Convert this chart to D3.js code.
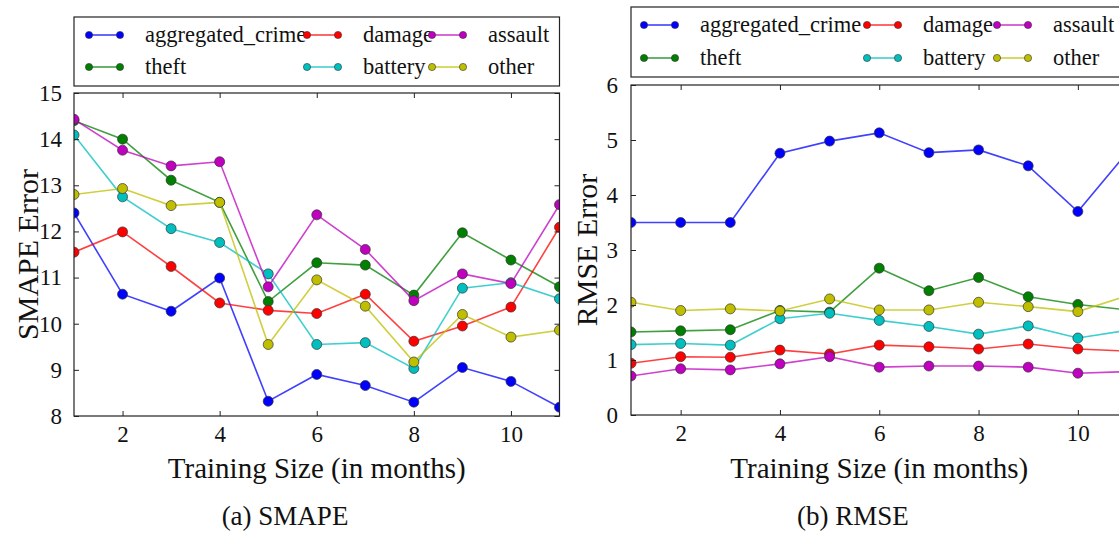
<!DOCTYPE html>
<html>
<head>
<meta charset="utf-8">
<script src="https://cdn.jsdelivr.net/npm/d3@7"></script>
<style>
  html, body { margin: 0; padding: 0; background: #fff; overflow: hidden; }
  svg { display: block; font-family: "Liberation Serif", "DejaVu Serif", serif; }
</style>
</head>
<body>
<svg id="chart" width="1119" height="533"></svg>
<script>
// ---------------- DATA ----------------
const months = [1, 2, 3, 4, 5, 6, 7, 8, 9, 10, 11];
const seriesNames = ["aggregated_crime", "theft", "damage", "battery", "assault", "other"];
const xTicks = [2, 4, 6, 8, 10];
const smapeTicks = [8, 9, 10, 11, 12, 13, 14, 15];
const rmseTicks = [0, 1, 2, 3, 4, 5, 6];

// SMAPE values (panel a)
const smapeAggregated = [12.40, 10.64, 10.27, 10.99, 8.32, 8.90, 8.66, 8.30, 9.05, 8.75, 8.19];
const smapeTheft      = [14.40, 14.00, 13.11, 12.63, 10.48, 11.32, 11.27, 10.62, 11.97, 11.38, 10.80];
const smapeDamage     = [11.55, 11.99, 11.24, 10.45, 10.29, 10.22, 10.64, 9.62, 9.95, 10.36, 12.09];
const smapeBattery    = [14.09, 12.75, 12.06, 11.76, 11.08, 9.55, 9.59, 9.03, 10.77, 10.89, 10.54];
const smapeAssault    = [14.43, 13.76, 13.42, 13.51, 10.80, 12.36, 11.61, 10.50, 11.08, 10.87, 12.58];
const smapeOther      = [12.80, 12.93, 12.56, 12.63, 9.55, 10.95, 10.38, 9.17, 10.20, 9.71, 9.86];

// RMSE values (panel b)
const rmseAggregated = [3.50, 3.50, 3.50, 4.76, 4.98, 5.13, 4.77, 4.82, 4.53, 3.70, 4.78];
const rmseTheft      = [1.51, 1.53, 1.55, 1.90, 1.87, 2.67, 2.26, 2.50, 2.15, 2.01, 1.91];
const rmseDamage     = [0.94, 1.06, 1.05, 1.18, 1.11, 1.27, 1.24, 1.20, 1.29, 1.20, 1.16];
const rmseBattery    = [1.28, 1.30, 1.27, 1.75, 1.85, 1.72, 1.61, 1.47, 1.62, 1.40, 1.54];
const rmseAssault    = [0.71, 0.84, 0.82, 0.93, 1.06, 0.87, 0.89, 0.89, 0.87, 0.76, 0.79];
const rmseOther      = [2.05, 1.90, 1.93, 1.89, 2.11, 1.91, 1.91, 2.05, 1.97, 1.88, 2.17];

// ---------------- STYLE ----------------
const seriesColors = ["#0000ff", "#008000", "#ff0000", "#00bfbf", "#bf00bf", "#bfbf00"];
const FONT = "'Liberation Serif', 'DejaVu Serif', serif";

const svg = d3.select("#chart");

function drawPanel(cfg) {
  const g = svg.append("g");
  const x = d3.scaleLinear().domain([1, 11]).range([cfg.left, cfg.right]);
  const y = d3.scaleLinear().domain(cfg.yDomain).range([cfg.bottom, cfg.top]);
  const clipId = "clip-" + cfg.id;

  g.append("clipPath").attr("id", clipId)
    .append("rect")
    .attr("x", cfg.left).attr("y", cfg.top)
    .attr("width", cfg.right - cfg.left).attr("height", cfg.bottom - cfg.top);

  // series
  const data = seriesNames.map((name, i) => ({
    name, color: seriesColors[i],
    values: cfg.series[i].map((v, j) => ({ m: months[j], v }))
  }));

  const line = d3.line().x(d => x(d.m)).y(d => y(d.v));
  const plot = g.append("g").attr("clip-path", `url(#${clipId})`);
  data.forEach(s => {
    const sg = plot.append("g");
    sg.append("path").datum(s.values)
      .attr("d", line)
      .attr("fill", "none")
      .attr("stroke", s.color)
      .attr("stroke-opacity", 0.75)
      .attr("stroke-width", 1.6);
    sg.selectAll("circle").data(s.values).join("circle")
      .attr("cx", d => x(d.m)).attr("cy", d => y(d.v))
      .attr("r", 5)
      .attr("fill", s.color)
      .attr("stroke", "#333")
      .attr("stroke-width", 0.7);
  });

  // axes (inward ticks on all sides)
  const axL = g.append("g").attr("transform", `translate(${cfg.left},0)`)
    .call(d3.axisLeft(y).tickValues(cfg.yTicks).tickFormat(d3.format("d"))
      .tickSizeInner(-5).tickSizeOuter(0).tickPadding(cfg.yPad));
  const axB = g.append("g").attr("transform", `translate(0,${cfg.bottom})`)
    .call(d3.axisBottom(x).tickValues(xTicks).tickFormat(d3.format("d"))
      .tickSizeInner(-5).tickSizeOuter(0).tickPadding(10));
  const axT = g.append("g").attr("transform", `translate(0,${cfg.top})`)
    .call(d3.axisTop(x).tickValues(xTicks).tickFormat("")
      .tickSizeInner(-5).tickSizeOuter(0));
  const axR = g.append("g").attr("transform", `translate(${cfg.right},0)`)
    .call(d3.axisRight(y).tickValues(cfg.yTicks).tickFormat("")
      .tickSizeInner(-5).tickSizeOuter(0));
  [axL, axB, axT, axR].forEach(a => {
    a.attr("font-family", FONT);
    a.select(".domain").remove();
    a.selectAll("line").attr("stroke", "#222").attr("stroke-width", 1);
    a.selectAll("text").attr("font-family", FONT).attr("font-size", 23).attr("fill", "#111");
  });

  // frame
  g.append("rect")
    .attr("x", cfg.left).attr("y", cfg.top)
    .attr("width", cfg.right - cfg.left).attr("height", cfg.bottom - cfg.top)
    .attr("fill", "none").attr("stroke", "#222").attr("stroke-width", 1.2);

  // axis titles
  g.append("text")
    .attr("transform", `translate(${cfg.yLabelX},${(cfg.top + cfg.bottom) / 2}) rotate(-90)`)
    .attr("text-anchor", "middle")
    .attr("font-family", FONT).attr("font-size", 30).attr("fill", "#111")
    .text(cfg.yLabel);
  g.append("text")
    .attr("x", (cfg.left + cfg.right) / 2).attr("y", 478)
    .attr("text-anchor", "middle")
    .attr("font-family", FONT).attr("font-size", 29).attr("fill", "#111")
    .text("Training Size (in months)");
  g.append("text")
    .attr("x", cfg.captionX).attr("y", 525)
    .attr("text-anchor", "middle")
    .attr("font-family", FONT).attr("font-size", 27).attr("fill", "#111")
    .text(cfg.caption);

  // legend
  const lg = g.append("g");
  lg.append("rect")
    .attr("x", cfg.left).attr("y", cfg.legTop)
    .attr("width", cfg.right - cfg.left).attr("height", cfg.legBottom - cfg.legTop)
    .attr("fill", "#fff").attr("stroke", "#222").attr("stroke-width", 1.2);
  data.forEach((s, i) => {
    const col = Math.floor(i / 2), row = i % 2;
    const lx = cfg.left + cfg.legCols[col];
    const ly = cfg.legRows[row];
    lg.append("line")
      .attr("x1", lx).attr("x2", lx + 31).attr("y1", ly).attr("y2", ly)
      .attr("stroke", s.color).attr("stroke-opacity", 0.75).attr("stroke-width", 1.6);
    [lx, lx + 31].forEach(cx => lg.append("circle")
      .attr("cx", cx).attr("cy", ly).attr("r", 3.6)
      .attr("fill", s.color).attr("stroke", "#333").attr("stroke-width", 0.6));
    lg.append("text")
      .attr("x", lx + 56).attr("y", ly).attr("dy", "0.32em")
      .attr("font-family", FONT).attr("font-size", 22.5).attr("fill", "#111")
      .text(s.name);
  });
}

drawPanel({
  id: "a", left: 74, right: 559.5, top: 93, bottom: 416,
  yDomain: [8, 15], yTicks: smapeTicks, yPad: 12,
  series: [smapeAggregated, smapeTheft, smapeDamage, smapeBattery, smapeAssault, smapeOther],
  yLabel: "SMAPE Error", yLabelX: 38, caption: "(a) SMAPE", captionX: 285,
  legTop: 17, legBottom: 86, legRows: [35, 67], legCols: [15, 233, 358]
});

drawPanel({
  id: "b", left: 631, right: 1127.5, top: 85, bottom: 415,
  yDomain: [0, 6], yTicks: rmseTicks, yPad: 13,
  series: [rmseAggregated, rmseTheft, rmseDamage, rmseBattery, rmseAssault, rmseOther],
  yLabel: "RMSE Error", yLabelX: 597, caption: "(b) RMSE", captionX: 853,
  legTop: 7, legBottom: 77, legRows: [25, 58], legCols: [13, 236, 366]
});
</script>
</body>
</html>
